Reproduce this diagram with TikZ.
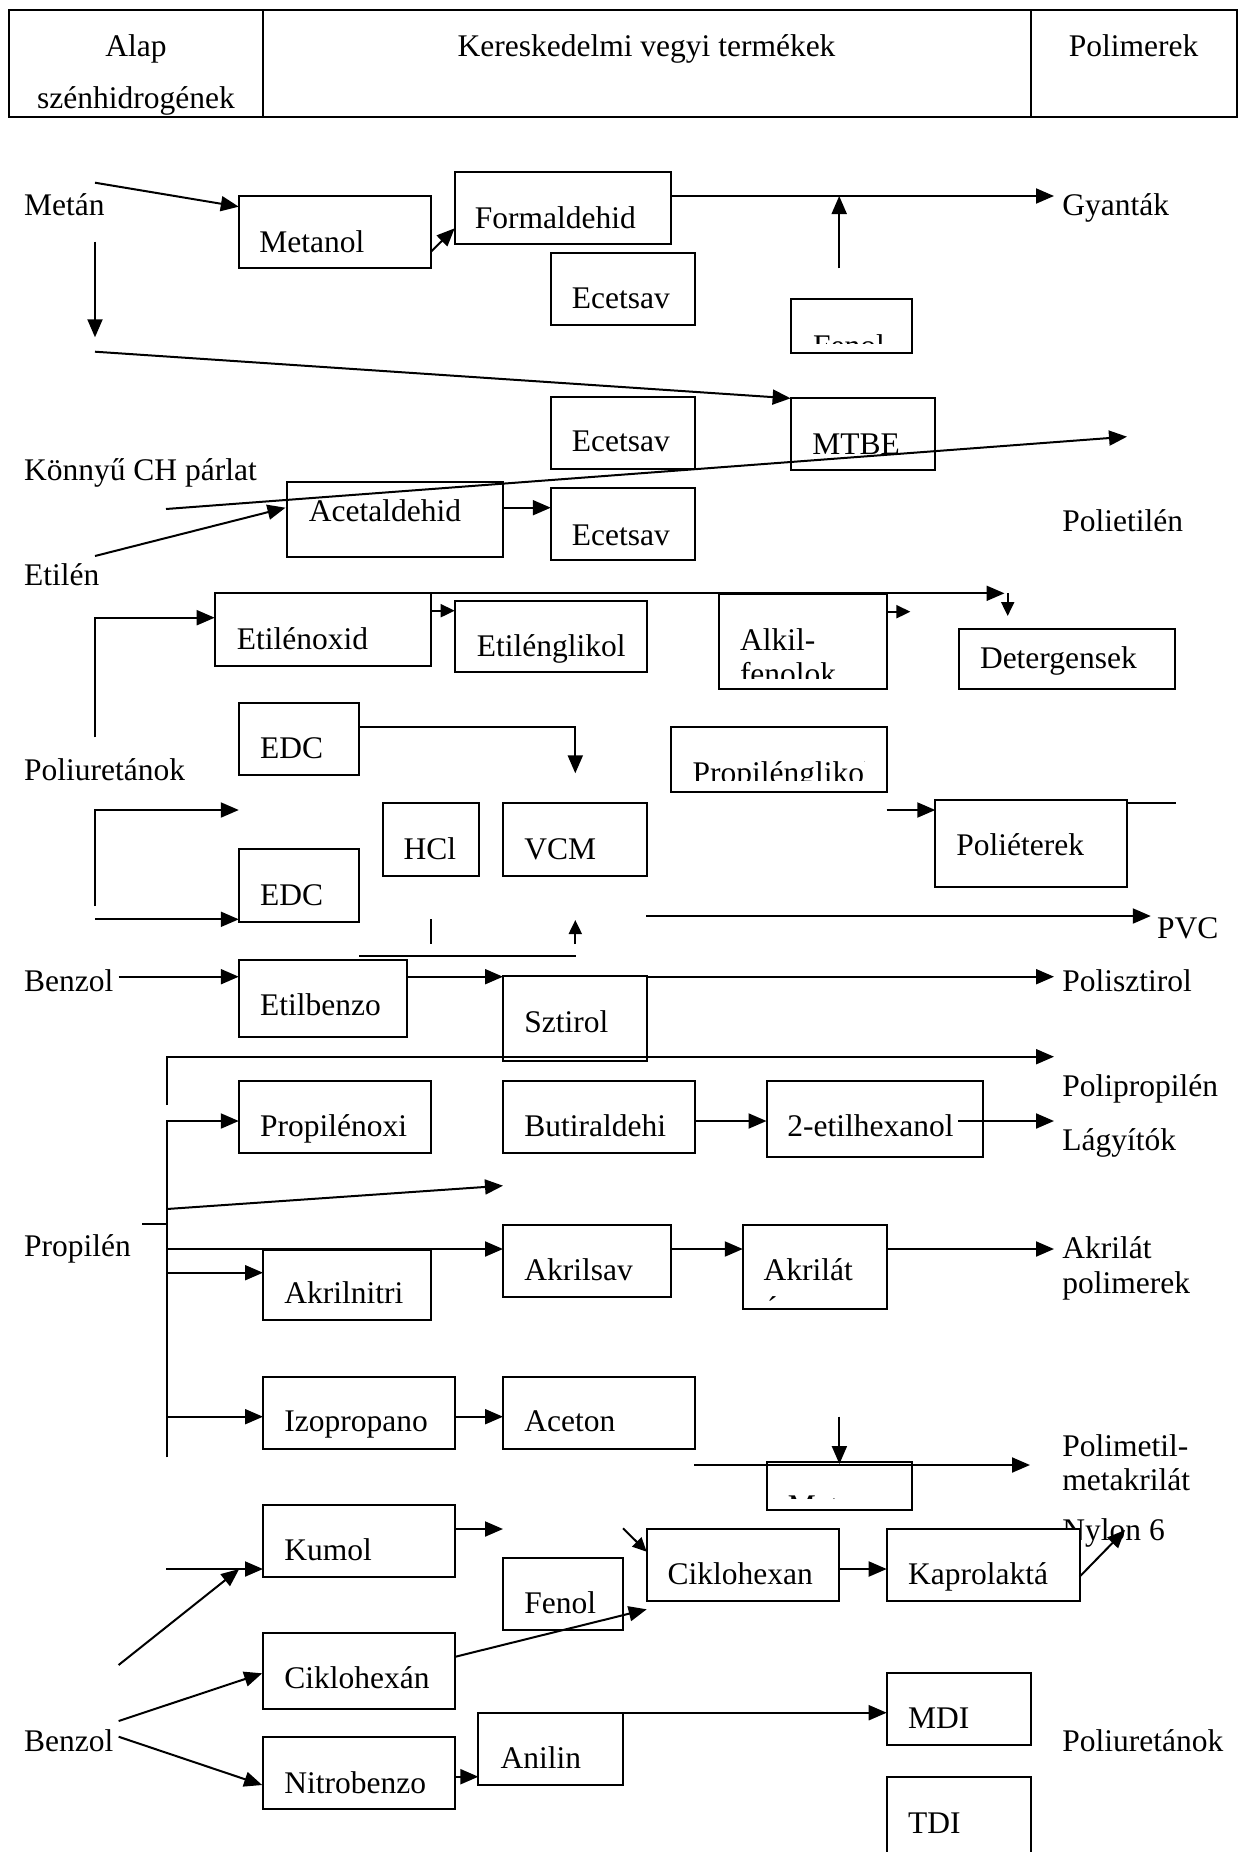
\documentclass[tikz,border=0pt]{standalone}
\usepackage{fontspec}
\setmainfont{Liberation Serif}
\usetikzlibrary{arrows.meta,fit}
\newcommand{\bx}[8]{%
  \node[box, fit={(#2,#3) (#4,#5)}] (#1) {};
  \node[lbl] (#1t) at (#6,#7) {#8};}
\begin{document}
\begin{tikzpicture}[x=0.5pt,y=-0.5pt,
  box/.style={draw, line width=1pt, fill=white, inner sep=0pt},
  lbl/.style={inner sep=0pt, anchor=base west, font=\fontsize{15.75}{19}\selectfont},
  arr/.style={line width=1pt, -{Triangle[length=9pt,width=7.5pt]}},
  sarr/.style={line width=1pt, -{Triangle[length=7pt,width=6.5pt]}},
  ln/.style={line width=1pt}]
\useasboundingbox (0,0) rectangle (1239,1852);
% ---------- header table
\node[box, fill=none, fit={(9,10) (1237,116.7)}] (tbl) {};
\coordinate (d1a) at (263,10); \coordinate (d1b) at (263,116.7);
\coordinate (d2a) at (1030.5,10); \coordinate (d2b) at (1030.5,116.7);
\draw[ln] (d1a) -- (d1b); \draw[ln] (d2a) -- (d2b);
\node[lbl, anchor=base] (h1a) at (136,56.7) {Alap};
\node[lbl, anchor=base] (h1b) at (136,108.3) {szénhidrogének};
\node[lbl, anchor=base] (h2) at (646.5,56.7) {Kereskedelmi vegyi termékek};
\node[lbl, anchor=base] (h3) at (1133.5,56.7) {Polimerek};
% ---------- left labels
\node[lbl] (lmetan) at (23.7,215) {Metán};
\node[lbl] (lkonny) at (23.7,480) {Könnyű CH párlat};
\node[lbl] (letilen) at (23.7,585) {Etilén};
\node[lbl] (lpoliu) at (23.7,780) {Poliuretánok};
\node[lbl] (lbenz1) at (23.7,991.7) {Benzol};
\node[lbl] (lprop) at (23.7,1256.7) {Propilén};
\node[lbl] (lbenz2) at (23.7,1751.7) {Benzol};
% ---------- right labels
\node[lbl] (rgyan) at (1062,215) {Gyanták};
\node[lbl] (rpe) at (1062,531.7) {Polietilén};
\node[lbl] (rpvc) at (1156.8,938.3) {PVC};
\node[lbl] (rps) at (1062,991.7) {Polisztirol};
\node[lbl] (rpp) at (1062,1096.7) {Polipropilén};
\node[lbl] (rlagy) at (1062,1150) {Lágyítók};
\node[lbl] (rakr1) at (1062,1258) {Akrilát};
\node[lbl] (rakr2) at (1062,1293) {polimerek};
\node[lbl] (rpmma1) at (1062,1456) {Polimetil-};
\node[lbl] (rpmma2) at (1062,1490) {metakrilát};
\node[lbl] (rnylon) at (1062,1540) {Nylon 6};
\node[lbl] (rpu) at (1062,1751.7) {Poliuretánok};
% ---------- boxes
\bx{metanol}{239}{196}{431}{268}{259}{252.3}{Metanol}
\bx{formald}{455}{172.3}{671}{244.3}{474.5}{228.3}{Formaldehid}
\bx{ecet1}{551}{252.7}{695.3}{325}{571.4}{308.3}{Ecetsav}
\node[box, fit={(791,299.3) (911.5,353)}] (fenol1) {};
\begin{scope}\clip (791,299.3) rectangle (911.5,343.3);
\node[lbl] (fenol1t) at (812.7,356) {Fenol};\end{scope}
\bx{mtbe}{791}{397.7}{935}{470}{812}{454}{MTBE}
\bx{ecet2}{551}{396.7}{695.3}{469.3}{571.4}{451.7}{Ecetsav}
\bx{acetald}{287}{481.7}{503.4}{557.3}{308.4}{521.7}{Acetaldehid}
\bx{ecet3}{551}{488.3}{695.3}{560}{571.4}{545}{Ecetsav}
\bx{etox}{215}{593.3}{431}{665.7}{236.5}{649.3}{Etilénoxid}
\bx{etgl}{455}{600.7}{646.7}{672.3}{476.5}{656.7}{Etilénglikol}
\bx{alkil}{718.6}{594}{887.1}{689.3}{739.6}{650}{Alkil-}
\begin{scope}\clip (718.6,594) rectangle (887.1,678.3);
\node[lbl] (alkilt2) at (739.6,684) {fenolok};\end{scope}
\bx{deterg}{959}{629.3}{1175.3}{689.3}{979.6}{668.3}{Detergensek}
\bx{edc1}{239}{702.7}{359}{775}{259.8}{758.3}{EDC}
\node[box, fit={(671.2,726.7) (887.1,791.7)}] (propgl) {};
\begin{scope}\clip (671.2,726.7) rectangle (864,780);
\node[lbl] (propglt) at (692.2,783) {Propilénglikol};\end{scope}
\bx{hcl}{383}{803.3}{479.2}{875.7}{403.3}{859.3}{HCl}
\bx{vcm}{503}{803.3}{646.7}{875.7}{524}{859.3}{VCM}
\bx{polieter}{935.3}{800}{1127.2}{886.7}{956}{855}{Poliéterek}
\bx{edc2}{239}{849.3}{359}{921.7}{259.8}{905}{EDC}
\bx{etbenz}{239}{960}{407}{1037}{259.8}{1015.7}{Etilbenzo}
\bx{sztirol}{503}{976}{647}{1061.3}{524}{1032.5}{Sztirol}
\bx{propox}{239}{1081}{431}{1152.7}{259.8}{1136}{Propilénoxi}
\bx{butir}{503}{1081}{695.3}{1152.7}{524}{1136}{Butiraldehi}
\bx{etilhex}{766.5}{1081}{983.2}{1157.3}{787}{1136.7}{2-etilhexanol}
\bx{akrnit}{263}{1250}{431}{1320}{283.9}{1303.3}{Akrilnitri}
\bx{akrsav}{503}{1225}{671.2}{1296.7}{524}{1280}{Akrilsav}
\bx{akrilat}{742.8}{1225}{887.1}{1309.3}{763.3}{1280.5}{Akrilát}
\begin{scope}\clip (742.8,1225) rectangle (785,1300);
\node[lbl] (akrilatt2) at (763.3,1318) {észterek};\end{scope}
\bx{izoprop}{263}{1376.7}{454.7}{1449}{283.9}{1431.7}{Izopropano}
\bx{aceton}{503}{1376.7}{695.3}{1449}{524}{1431.7}{Aceton}
\node[box, fit={(767,1461.7) (911.6,1510)}] (metbox) {};
\begin{scope}\clip (767,1461.7) rectangle (840,1498);
\node[lbl] (metboxt) at (787.5,1516) {Metanol};\end{scope}
\bx{kumol}{263}{1505}{454.7}{1577.3}{283.9}{1560}{Kumol}
\bx{fenol2}{503}{1558.3}{623}{1630}{524}{1613.3}{Fenol}
\bx{ciklo1}{646.7}{1529}{839.2}{1600.7}{667.2}{1584}{Ciklohexan}
\bx{kapro}{886.7}{1529}{1079.6}{1600.7}{907.7}{1584}{Kaprolaktá}
\bx{ciklo2}{263}{1633.3}{454.7}{1709.3}{283.9}{1688.3}{Ciklohexán}
\bx{mdi}{886.7}{1673.3}{1031}{1745}{907.7}{1728.3}{MDI}
\bx{anilin}{478.4}{1713.3}{623}{1785}{500.2}{1768.3}{Anilin}
\bx{nitro}{263}{1737.3}{454.7}{1809}{283.9}{1793.3}{Nitrobenzo}
\bx{tdi}{886.7}{1776.7}{1031}{1870}{907.7}{1833.3}{TDI}
% ---------- connector end points
\coordinate (c1s) at (95,182.7);    \coordinate (c1e) at (238.8,206.7);
\coordinate (c2s) at (431,251.7);   \coordinate (c2e) at (454.7,228.3);
\coordinate (c3s) at (671,196);     \coordinate (c3e) at (1054,196);
\coordinate (c4s) at (839.2,268.3); \coordinate (c4e) at (839.2,196);
\coordinate (c5s) at (95,241.7);    \coordinate (c5e) at (95,337.3);
\coordinate (c6s) at (95,351.7);    \coordinate (c6e) at (790.6,398.3);
\coordinate (c7s) at (166,509);     \coordinate (c7e) at (1127,436.7);
\coordinate (c8s) at (95,556);      \coordinate (c8e) at (285.5,507.7);
\coordinate (c9s) at (503.4,507.7); \coordinate (c9e) at (550.8,507.7);
\coordinate (c10s) at (431,593.3);  \coordinate (c10e) at (1004.5,593.3);
\coordinate (c11s) at (1007.7,593.3); \coordinate (c11e) at (1007.7,616);
\coordinate (c12s) at (95,737.3);   \coordinate (c12m) at (95,617.7); \coordinate (c12e) at (214.7,617.7);
\coordinate (c13s) at (431,610.7);  \coordinate (c13e) at (454.7,610.7);
\coordinate (c14s) at (887,611.7);  \coordinate (c14e) at (910.4,611.7);
\coordinate (c15s) at (359,726.7);  \coordinate (c15m) at (575.3,726.7); \coordinate (c15e) at (575.3,773.3);
\coordinate (c16s) at (95,906);     \coordinate (c16m) at (95,810); \coordinate (c16e) at (238.8,810);
\coordinate (c17s) at (95,919.3);   \coordinate (c17e) at (238.8,919.3);
\coordinate (c18s) at (886.7,810);  \coordinate (c18e) at (935.3,810);
\coordinate (c19s) at (1127,802.7); \coordinate (c19e) at (1175.7,802.7);
\coordinate (c20s) at (646,916);    \coordinate (c20e) at (1150.8,916);
\coordinate (c21s) at (431,919.3);  \coordinate (c21e) at (431,944);
\coordinate (c22s) at (575.3,944);  \coordinate (c22e) at (575.3,920);
\coordinate (c23s) at (359,956);    \coordinate (c23e) at (575.7,956);
\coordinate (c24s) at (118.6,976.7); \coordinate (c24e) at (238.8,976.7);
\coordinate (c25s) at (407,976.7);  \coordinate (c25e) at (503,976.7);
\coordinate (c26s) at (647,976.7);  \coordinate (c26e) at (1054,976.7);
\coordinate (c27s) at (166.9,1105); \coordinate (c27m) at (166.9,1056.7); \coordinate (c27e) at (1054,1056.7);
\coordinate (c28s) at (166.9,1457.3); \coordinate (c28m) at (166.9,1121); \coordinate (c28e) at (238.8,1121);
\coordinate (c29s) at (695.3,1121); \coordinate (c29e) at (766.5,1121);
\coordinate (c30s) at (958.3,1121); \coordinate (c30e) at (1054,1121);
\coordinate (c31s) at (166.9,1209); \coordinate (c31e) at (503,1185.7);
\coordinate (c32s) at (142.3,1224.3); \coordinate (c32e) at (166.9,1224.3);
\coordinate (c33s) at (166.9,1249); \coordinate (c33e) at (503,1249);
\coordinate (c34s) at (166.9,1272.7); \coordinate (c34e) at (263,1272.7);
\coordinate (c35s) at (671.2,1249); \coordinate (c35e) at (742.8,1249);
\coordinate (c36s) at (887.1,1249); \coordinate (c36e) at (1054,1249);
\coordinate (c37s) at (166.9,1416.7); \coordinate (c37e) at (263,1416.7);
\coordinate (c38s) at (454.7,1416.7); \coordinate (c38e) at (503,1416.7);
\coordinate (c39s) at (839.4,1416.7); \coordinate (c39e) at (839.4,1464);
\coordinate (c40s) at (694.3,1465); \coordinate (c40e) at (1030,1465);
\coordinate (c41s) at (454.7,1529); \coordinate (c41e) at (503,1529);
\coordinate (c42s) at (166,1569);   \coordinate (c42e) at (263,1569);
\coordinate (c43s) at (118.6,1665); \coordinate (c43e) at (239.2,1569);
\coordinate (c44s) at (623,1528.3); \coordinate (c44e) at (646.7,1551.7);
\coordinate (c45s) at (455.5,1656.7); \coordinate (c45e) at (646.7,1609.3);
\coordinate (c46s) at (839.2,1569); \coordinate (c46e) at (886.7,1569);
\coordinate (c47s) at (1079.6,1576.7); \coordinate (c47e) at (1125.1,1530);
\coordinate (c48s) at (118.6,1721); \coordinate (c48e) at (262.2,1673.3);
\coordinate (c49s) at (118.6,1736.7); \coordinate (c49e) at (262.2,1785);
\coordinate (c50s) at (454.7,1776.7); \coordinate (c50e) at (478.4,1776.7);
\coordinate (c51s) at (623,1712.7); \coordinate (c51e) at (886.7,1712.7);
% ---------- connectors
\draw[arr] (c1s) -- (c1e);
\draw[arr] (c2s) -- (c2e);
\draw[arr] (c3s) -- (c3e);
\draw[arr] (c4s) -- (c4e);
\draw[arr] (c5s) -- (c5e);
\draw[arr] (c6s) -- (c6e);
\draw[arr] (c7s) -- (c7e);
\draw[arr] (c8s) -- (c8e);
\draw[arr] (c9s) -- (c9e);
\draw[arr] (c10s) -- (c10e);
\draw[sarr] (c11s) -- (c11e);
\draw[arr] (c12s) -- (c12m) -- (c12e);
\draw[sarr] (c13s) -- (c13e);
\draw[sarr] (c14s) -- (c14e);
\draw[arr] (c15s) -- (c15m) -- (c15e);
\draw[arr] (c16s) -- (c16m) -- (c16e);
\draw[arr] (c17s) -- (c17e);
\draw[arr] (c18s) -- (c18e);
\draw[ln] (c19s) -- (c19e);
\draw[arr] (c20s) -- (c20e);
\draw[ln] (c21s) -- (c21e);
\draw[sarr] (c22s) -- (c22e);
\draw[ln] (c23s) -- (c23e);
\draw[arr] (c24s) -- (c24e);
\draw[arr] (c25s) -- (c25e);
\draw[arr] (c26s) -- (c26e);
\draw[arr] (c27s) -- (c27m) -- (c27e);
\draw[arr] (c28s) -- (c28m) -- (c28e);
\draw[arr] (c29s) -- (c29e);
\draw[arr] (c30s) -- (c30e);
\draw[arr] (c31s) -- (c31e);
\draw[ln] (c32s) -- (c32e);
\draw[arr] (c33s) -- (c33e);
\draw[arr] (c34s) -- (c34e);
\draw[arr] (c35s) -- (c35e);
\draw[arr] (c36s) -- (c36e);
\draw[arr] (c37s) -- (c37e);
\draw[arr] (c38s) -- (c38e);
\draw[arr] (c39s) -- (c39e);
\draw[arr] (c40s) -- (c40e);
\draw[arr] (c41s) -- (c41e);
\draw[arr] (c42s) -- (c42e);
\draw[arr] (c43s) -- (c43e);
\draw[sarr] (c44s) -- (c44e);
\draw[arr] (c45s) -- (c45e);
\draw[arr] (c46s) -- (c46e);
\draw[arr] (c47s) -- (c47e);
\draw[arr] (c48s) -- (c48e);
\draw[arr] (c49s) -- (c49e);
\draw[arr] (c50s) -- (c50e);
\draw[arr] (c51s) -- (c51e);
\end{tikzpicture}
\end{document}
